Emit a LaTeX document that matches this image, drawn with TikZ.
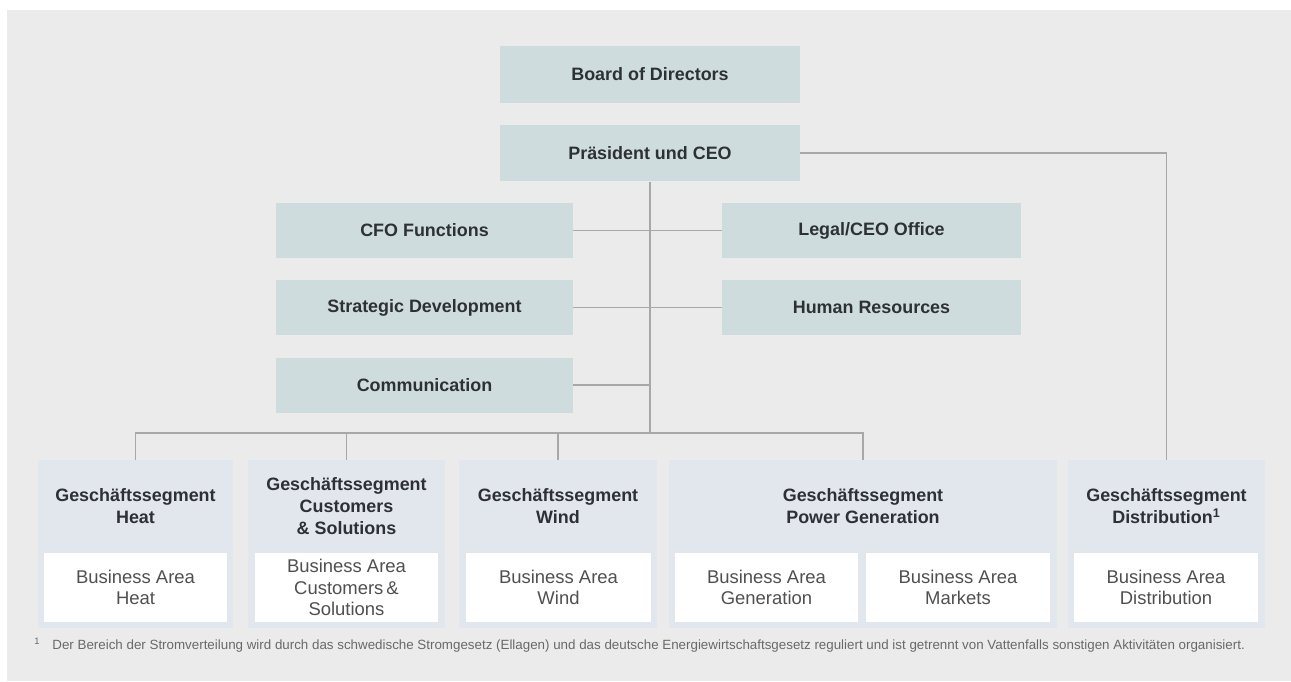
\documentclass[tikz,border=0pt]{standalone}
\usepackage{fontspec}
\setmainfont{Liberation Sans}
\usetikzlibrary{positioning}
\definecolor{bggray}{RGB}{235,235,235}
\definecolor{boxteal}{RGB}{206,220,221}
\definecolor{segblue}{RGB}{226,230,237}
\definecolor{linegray}{RGB}{168,168,168}
\definecolor{textdark}{RGB}{45,49,53}
\definecolor{textarea}{RGB}{80,80,80}
\definecolor{textnote}{RGB}{105,105,105}

\begin{document}
\begin{tikzpicture}[x=0.02cm,y=-0.02cm,
  topbox/.style={rectangle,fill=boxteal,draw=none,minimum width=6cm,minimum height=1.13cm,text=textdark,font=\fontsize{10.2}{12.5}\selectfont\bfseries},
  segbox/.style={rectangle,fill=segblue,draw=none,minimum height=3.36cm},
  seghead/.style={align=center,text=textdark,font=\fontsize{10.2}{12.5}\selectfont\bfseries},
  areabox/.style={rectangle,fill=white,draw=none,minimum width=3.66cm,minimum height=1.38cm,align=center,text=textarea,font=\fontsize{10.5}{12.2}\selectfont},
  orgline/.style={draw=linegray,line width=1.1pt},
  fnote/.style={text=textnote,font=\fontsize{7.6}{9}\selectfont,inner sep=0pt}]
\useasboundingbox (0,0) rectangle (1291,681);
\fill[bggray] (7,10) rectangle (1291,681);

% board, ceo and staff functions
\node[topbox] (board) at (650,74.5) {Board of Directors};
\node[topbox] (ceo) at (650,153) {Präsident und CEO};
\node[topbox,minimum width=5.94cm,minimum height=1.1cm] (cfo) at (424.5,230.5) {CFO Functions};
\node[topbox,minimum width=5.98cm,minimum height=1.1cm] (legal) at (871.5,230.5) {Legal/CEO Office};
\node[topbox,minimum width=5.94cm,minimum height=1.1cm] (strat) at (424.5,307.5) {Strategic Development};
\node[topbox,minimum width=5.98cm,minimum height=1.1cm] (hr) at (871.5,307.5) {Human Resources};
\node[topbox,minimum width=5.94cm,minimum height=1.1cm] (comm) at (424.5,385) {Communication};

% segments
\node[segbox,minimum width=3.9cm] (heat) at (135.5,544) {};
\node[segbox,minimum width=3.94cm] (cust) at (346.5,544) {};
\node[segbox,minimum width=3.96cm] (wind) at (558,544) {};
\node[segbox,minimum width=7.76cm] (pg) at (863,544) {};
\node[segbox,minimum width=3.94cm] (dist) at (1166.5,544) {};

\node[seghead] (heathead) at (135.5,506.5) {Geschäftssegment\\Heat};
\node[seghead] (custhead) at (346.5,506.5) {Geschäftssegment\\Customers\\\& Solutions};
\node[seghead] (windhead) at (558,506.5) {Geschäftssegment\\Wind};
\node[seghead] (pghead) at (863,506.5) {Geschäftssegment\\Power Generation};
\node[seghead] (disthead) at (1166.5,506.5) {Geschäftssegment\\Distribution\textsuperscript{1}};

\node[areabox] (heatba) at (135.5,587.5) {Business Area\\Heat};
\node[areabox] (custba) at (346.5,587.5) {Business Area\\Customers\,\&\\Solutions};
\node[areabox,minimum width=3.7cm] (windba) at (558.5,587.5) {Business Area\\Wind};
\node[areabox] (genba) at (766.5,587.5) {Business Area\\Generation};
\node[areabox,minimum width=3.68cm] (mktba) at (958,587.5) {Business Area\\Markets};
\node[areabox,minimum width=3.68cm] (distba) at (1166,587.5) {Business Area\\Distribution};

% lines
\coordinate (bus) at (650,433);
\draw[orgline] (ceo.south) -- (bus);
\draw[orgline] (heat.north) |- (bus) -| (pg.north);
\draw[orgline] (cust.north) -- (cust.north |- bus);
\draw[orgline] (wind.north) -- (wind.north |- bus);
\draw[orgline] (ceo.east) -| (dist.north);
\draw[orgline] (cfo.east) -- (legal.west);
\draw[orgline] (strat.east) -- (hr.west);
\draw[orgline] (comm.east) -- (comm.east -| bus);

\node[fnote,anchor=west] (note) at (34,645) {\textsuperscript{1}\hspace{2.4mm}Der Bereich der Stromverteilung wird durch das schwedische Stromgesetz (Ellagen) und das deutsche Energiewirtschaftsgesetz reguliert und ist getrennt von Vattenfalls sonstigen Aktivitäten organisiert.};

\end{tikzpicture}
\end{document}
